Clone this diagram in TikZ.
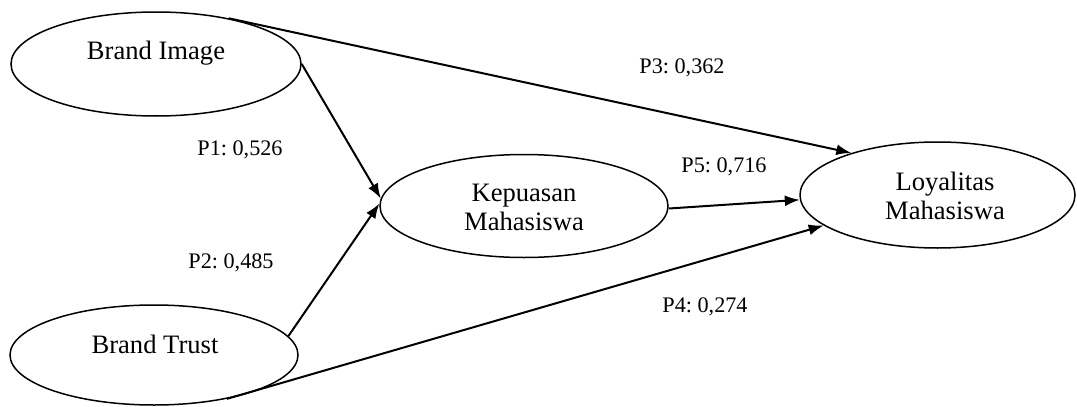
\documentclass[tikz,border=0pt]{standalone}
\usepackage{fontspec}
\setmainfont{Liberation Serif}
\usetikzlibrary{shapes.geometric,arrows.meta}

\tikzset{
  latent/.style={ellipse, draw, line width=0.75pt, inner sep=0pt},
  varname/.style={font=\fontsize{13.3}{14.5}\selectfont, align=center},
  coef/.style={font=\fontsize{11.1}{13}\selectfont\frenchspacing, anchor=base},
  effect/.style={-{Latex[length=7.5pt,width=5.5pt]}, line width=1pt}
}

\begin{document}
\begin{tikzpicture}[x=0.5pt,y=-0.5pt]
\useasboundingbox (0,0) rectangle (1077,407);

% exogenous
\node[latent, minimum width=145pt, minimum height=52pt] (bi) at (156,64) {};
\node[varname, anchor=base] (bitxt) at (156,60) {Brand Image};
\node[latent, minimum width=144pt, minimum height=50pt] (bt) at (154,355) {};
\node[varname, anchor=base] (bttxt) at (155,353) {Brand Trust};

% mediator
\node[latent, minimum width=144pt, minimum height=51.5pt] (kep) at (524,206) {};
\node[varname] (keptxt) at (524,207) {Kepuasan\\Mahasiswa};

% outcome
\node[latent, minimum width=137.5pt, minimum height=53pt] (loy) at (937.5,195) {};
\node[varname] (loytxt) at (945,196) {Loyalitas\\Mahasiswa};

% paths
\draw[effect] (bi.east) -- (kep.177);
\draw[effect] (bt.8) -- (kep.179);
\draw[effect] (bi.32) -- (loy.154);
\draw[effect] (bt.-31) -- (loy.195);
\draw[effect] (kep.-1) -- (loy.182);

% coefficients
\node[coef] (p1) at (240,155) {P1: 0,526};
\node[coef] (p2) at (231,268) {P2: 0,485};
\node[coef] (p3) at (682,73) {P3: 0,362};
\node[coef] (p5) at (724,172) {P5: 0,716};
\node[coef] (p4) at (705,312) {P4: 0,274};
\end{tikzpicture}
\end{document}
